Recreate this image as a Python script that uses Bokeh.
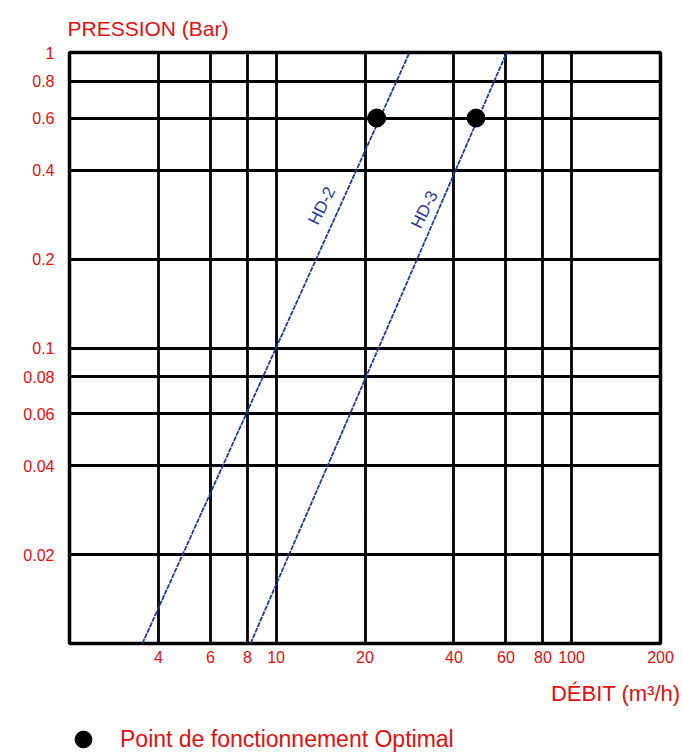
from bokeh.plotting import figure
from bokeh.layouts import column
from bokeh.models import (Range1d, FixedTicker, PrintfTickFormatter, Label,
                          Legend, LegendItem, Title)
from bokeh.embed import file_html
from bokeh.resources import INLINE

# ---- data -------------------------------------------------------------
x_ticks = [4, 6, 8, 10, 20, 40, 60, 80, 100, 200]
y_ticks = [0.02, 0.04, 0.06, 0.08, 0.1, 0.2, 0.4, 0.6, 0.8, 1]
x_grid = [4, 6, 8, 10, 20, 40, 60, 80, 100]
y_grid = [0.02, 0.04, 0.06, 0.08, 0.1, 0.2, 0.4, 0.6, 0.8]

hd2_debit = [3.53, 28.3]
hd2_pression = [0.01, 1.0]
hd3_debit = [8.2, 60.3]
hd3_pression = [0.01, 1.0]

optimal_debit = [21.9, 47.5]
optimal_pression = [0.6, 0.6]

curve_names = ["HD-2", "HD-3"]
curve_label_debit = [14.3, 31.8]
curve_label_pression = [0.303, 0.294]

# ---- style ------------------------------------------------------------
RED = "#e01010"
BLUE = "#1f3c9e"
FONT = "Liberation Sans"

p = figure(x_axis_type="log", y_axis_type="log",
           x_range=Range1d(2, 200), y_range=Range1d(0.01, 1),
           frame_width=591, frame_height=591,
           min_border_left=69, min_border_top=52, min_border_right=22,
           min_border_bottom=79,
           output_backend="svg", toolbar_location=None,
           background_fill_color="white", border_fill_color="white")

p.outline_line_color = "black"
p.outline_line_width = 3.5
p.outline_line_alpha = 1

for grid, ticks in ((p.xgrid, x_grid), (p.ygrid, y_grid)):
    grid.ticker = FixedTicker(ticks=ticks)
    grid.grid_line_color = "black"
    grid.grid_line_width = 2.8
    grid.grid_line_alpha = 1
    grid.minor_grid_line_color = None

for ax, ticks, standoff in ((p.xaxis[0], x_ticks, 7), (p.yaxis[0], y_ticks, 15)):
    ax.ticker = FixedTicker(ticks=ticks)
    ax.formatter = PrintfTickFormatter(format="%g")
    ax.axis_line_color = None
    ax.major_tick_line_color = None
    ax.minor_tick_line_color = None
    ax.major_tick_in = 0
    ax.major_tick_out = 0
    ax.minor_tick_in = 0
    ax.minor_tick_out = 0
    ax.major_label_standoff = standoff
    ax.major_label_text_color = RED
    ax.major_label_text_font = FONT
    ax.major_label_text_font_size = "16px"

# curves
p.line(hd2_debit, hd2_pression, line_color=BLUE, line_width=1.8, line_dash="5 1")
p.line(hd3_debit, hd3_pression, line_color=BLUE, line_width=1.8, line_dash="5 1")

for name, xd, yd in zip(curve_names, curve_label_debit, curve_label_pression):
    p.add_layout(Label(x=xd, y=yd, text=name, angle=63, angle_units="deg",
                       text_align="center", text_baseline="middle",
                       text_color=BLUE, text_font=FONT, text_font_size="17px"))

dots = p.scatter(optimal_debit, optimal_pression, size=18, color="black")

# axis titles (side panels so they are not clipped by the frame)
p.add_layout(Title(text="PRESSION  (Bar)", align="left", offset=-2,
                   standoff=26, text_color=RED, text_font=FONT,
                   text_font_size="21px", text_font_style="normal"), "above")

p.add_layout(Title(text="DÉBIT (m³/h)", align="right", offset=-20,
                   standoff=27, text_color=RED, text_font=FONT,
                   text_font_size="22px", text_font_style="normal"), "below")

# ---- legend strip under the chart ------------------------------------
leg = figure(width=682, height=31, x_range=Range1d(0, 1), y_range=Range1d(0, 1),
             min_border=0, output_backend="svg", toolbar_location=None,
             x_axis_location=None, y_axis_location=None,
             background_fill_color="white", border_fill_color="white")
leg.outline_line_color = None
leg.grid.visible = False
# same marks as the chart (outside this strip's ranges): only the legend shows
leg_dots = leg.scatter(optimal_debit, optimal_pression, size=18, color="black")

legend = Legend(items=[LegendItem(label="Point de fonctionnement Optimal",
                                  renderers=[leg_dots])],
                location=(-7, -7), glyph_width=42, glyph_height=42,
                label_standoff=16, padding=0, margin=0, spacing=0,
                border_line_color=None, background_fill_alpha=0,
                label_text_color=RED, label_text_font=FONT,
                label_text_font_size="23px")
leg.add_layout(legend)

layout = column(p, leg, spacing=0)
open("out.html", "w").write(file_html(layout, INLINE))
